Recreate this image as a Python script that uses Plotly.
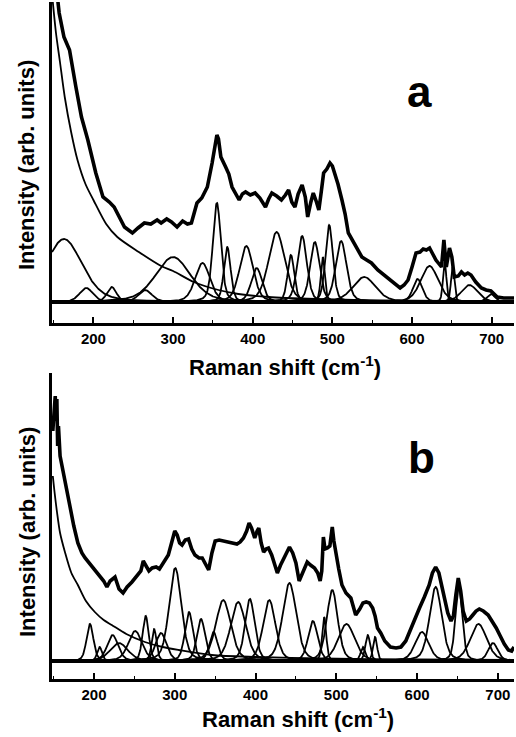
import numpy as np
import plotly.graph_objects as go

# ---------------- Panel a data ----------------
spec_a_x = [150,155,157,163,170,178,185,193,203,212,220,226,232,239,244,249,256,264,272,280,285,292,298,305,312,318,323,327,330,336,343,349,352,355,357,360,366,370,374,379,383,387,391,397,403,409,416,420,424,430,436,441,445,449,453,457,462,466,469,473,476,480,483,486,489,493,497,500,503,507,512,516,520,526,532,537,543,549,557,565,574,580,585,590,595,600,605,610,614,618,622,626,630,634,637,640,643,647,650,653,658,662,666,670,674,680,687,693,699,707,715,724,728]
spec_a_y = [340,300,289,265,252,215,185,162,129,105,100,95,86,75,72,69,74,79,78,82,79,83,80,75,81,78,79,90,99,104,115,139,155,167,163,145,135,128,115,108,102,108,110,107,109,104,95,103,109,106,102,107,112,100,95,108,117,105,85,100,109,100,92,110,129,133,139,136,129,118,102,88,69,60,52,45,42,39,32,27,22,18,14,17,22,35,49,50,53,52,54,48,42,38,35,62,35,54,45,25,26,30,27,29,27,20,14,12,11,5,4,4,4]

bg_a_x = [149,153,158,164,172,180,190,200,216,230,257,285,300,326,357,382,420,480,560,728]
bg_a_y = [300,269,240,205,170,142,118,102,78,65,50,36,31,20,12,8,5,3,1.5,0.5]

peak_a_center = [163,191,223,265,300,337,355,368,392,405,430,448,462,478,488,496,511,540,607,622,641,651,672,699]
peak_a_height = [63,14,15,12,45,39,99,55,56,34,70,47,66,60,45,77,61,25,23,36,40,35,17,8]
peak_a_hwhm   = [27,10,7,10,26,11,6,5,10,8,12,5,7,7,3,5.5,8,17,7,13,2.5,2.5,12,6]

# ---------------- Panel b data ----------------
spec_b_x = [149,151,152,153,154,155,156,158,162,166,170,175,180,185,189,195,201,207,212,216,220,226,231,236,241,247,253,258,261,264,268,272,277,281,284,288,292,296,300,303,306,309,313,317,321,325,330,334,338,342,346,350,355,360,365,370,377,381,385,389,392,395,399,402,404,407,410,413,416,420,424,427,431,435,439,442,446,450,454,458,461,464,468,473,477,480,482,484,486,489,492,495,497,499,503,507,512,518,524,529,533,537,541,545,548,551,555,560,567,574,580,586,591,597,603,609,615,619,623,627,630,634,638,642,645,648,651,654,657,661,665,669,673,677,682,688,693,698,703,708,713,717,720]
spec_b_y = [230,250,265,240,262,215,235,205,188,170,156,135,118,108,103,97,91,86,80,74,80,84,72,68,74,79,85,90,100,96,90,93,94,92,96,100,106,118,130,126,118,116,121,122,112,106,103,103,96,91,108,120,121,120,119,118,117,119,123,130,138,133,123,130,133,118,109,112,113,106,96,88,96,103,110,114,108,98,80,88,95,99,96,93,88,80,90,124,112,113,115,134,120,109,92,76,68,63,46,52,58,59,58,53,45,33,28,20,14,13,14,20,30,43,53,64,76,88,94,88,77,64,48,40,45,66,83,70,50,40,42,46,50,52,50,46,40,33,25,17,11,10,14]

bg_b_x = [149,151,154,158,164,172,180,190,201,212,222,240,263,285,305,346,400,480,600,720]
bg_b_y = [185,170,150,128,109,88,76,60,49,41,36,27,19,14,11,6,4,2.5,1.5,1]

peak_b_center = [195,207,223,231,251,264,274.5,283,300.6,317.6,332.5,348,360,378.5,393,417,442,471,485,495,512.6,533,539,548,606,623,651.8,676,694]
peak_b_height = [37,14,26,18,30,45,32,28,93,49,42,29,61,59,62,61,78,40,44,71,37,14,26,24,29,74,75,37,18]
peak_b_hwhm   = [5,3.5,8,13,10,4.5,3.5,8,9,6,6,6,11,11,7,9,10,7,3,8,12,3.5,3.5,3,10,9,5,12,7]

x_ticks = [200, 300, 400, 500, 600, 700]

FONT = "Arial, Liberation Sans, sans-serif"
W, H = 516, 737

fig = go.Figure()

def pvoigt(x, c, h, g, eta=0.35):
    lor = 1.0 / (1.0 + ((x - c) / g) ** 2)
    gau = np.exp(-np.log(2) * ((x - c) / g) ** 2)
    return h * (eta * lor + (1 - eta) * gau)

def add_panel(xa, ya, xr, sx, sy, bx, by, pc, ph, pw):
    grid = np.linspace(xr[0], xr[1], 1400)
    for c, h, g in zip(pc, ph, pw):
        fig.add_trace(go.Scatter(x=grid, y=pvoigt(grid, c, h, g), mode="lines",
                                 line=dict(color="black", width=1.8),
                                 xaxis=xa, yaxis=ya, showlegend=False, hoverinfo="skip"))
    fig.add_trace(go.Scatter(x=[xr[0], xr[1]], y=[0, 0], mode="lines",
                             line=dict(color="black", width=4),
                             xaxis=xa, yaxis=ya, showlegend=False))
    fig.add_trace(go.Scatter(x=bx, y=by, mode="lines",
                             line=dict(color="black", width=1.8, shape="spline", smoothing=0.8),
                             xaxis=xa, yaxis=ya, showlegend=False))
    fig.add_trace(go.Scatter(x=sx, y=sy, mode="lines",
                             line=dict(color="black", width=3.6),
                             xaxis=xa, yaxis=ya, showlegend=False))

add_panel("x", "y", [148, 728], spec_a_x, spec_a_y, bg_a_x, bg_a_y,
          peak_a_center, peak_a_height, peak_a_hwhm)
add_panel("x2", "y2", [148, 720], spec_b_x, spec_b_y, bg_b_x, bg_b_y,
          peak_b_center, peak_b_height, peak_b_hwhm)

def fx(p):  # page x -> paper
    return p / W

def fy(p):  # page y -> paper
    return 1 - p / H

xdom = [fx(52), fx(514)]
dom_a = [fy(323), fy(2)]
dom_b = [fy(679), fy(373)]

xaxis_common = dict(showline=True, linecolor="black", linewidth=2.5, mirror=False,
                    showgrid=False, zeroline=False, ticks="inside", ticklen=6,
                    tickwidth=2, tickcolor="black", tickvals=x_ticks,
                    tickfont=dict(family=FONT, size=15, color="black", weight="bold"),
                    minor=dict(ticks="inside", ticklen=3, tickwidth=1.2, dtick=50,
                               tickcolor="black", showgrid=False),
                    domain=xdom, fixedrange=True)
yaxis_common = dict(showline=True, linecolor="black", linewidth=2.5, showgrid=False,
                    zeroline=False, showticklabels=False, ticks="", fixedrange=True)

fig.update_layout(
    width=W, height=H, margin=dict(l=0, r=0, t=0, b=0),
    paper_bgcolor="white", plot_bgcolor="white", showlegend=False,
    xaxis=dict(range=[148, 728], anchor="y", **xaxis_common),
    yaxis=dict(range=[-21, 300], domain=dom_a, anchor="x", **yaxis_common),
    xaxis2=dict(range=[148, 720], anchor="y2", **xaxis_common),
    yaxis2=dict(range=[-18, 288], domain=dom_b, anchor="x2", **yaxis_common),
)

anns = []
for (xc, yc, txt, ang, size) in [
    (285, 366, "Raman shift (cm<sup>-1</sup>)", 0, 22),
    (298, 718, "Raman shift (cm<sup>-1</sup>)", 0, 22),
    (27, 165, "Intensity (arb. units)", -90, 22),
    (27, 532, "Intensity (arb. units)", -90, 22),
    (419, 92, "a", 0, 44),
    (421, 458, "b", 0, 44),
]:
    anns.append(dict(x=fx(xc), y=fy(yc), xref="paper", yref="paper", text=txt, showarrow=False,
                     textangle=ang, xanchor="center", yanchor="middle",
                     font=dict(family=FONT, size=size, color="black", weight="bold")))
fig.update_layout(annotations=anns)

fig.write_html(
    "out.html",
    config={"displayModeBar": False},
    post_script="document.body.style.margin='0';document.body.style.overflow='hidden';"
                "document.documentElement.style.overflow='hidden';",
)
